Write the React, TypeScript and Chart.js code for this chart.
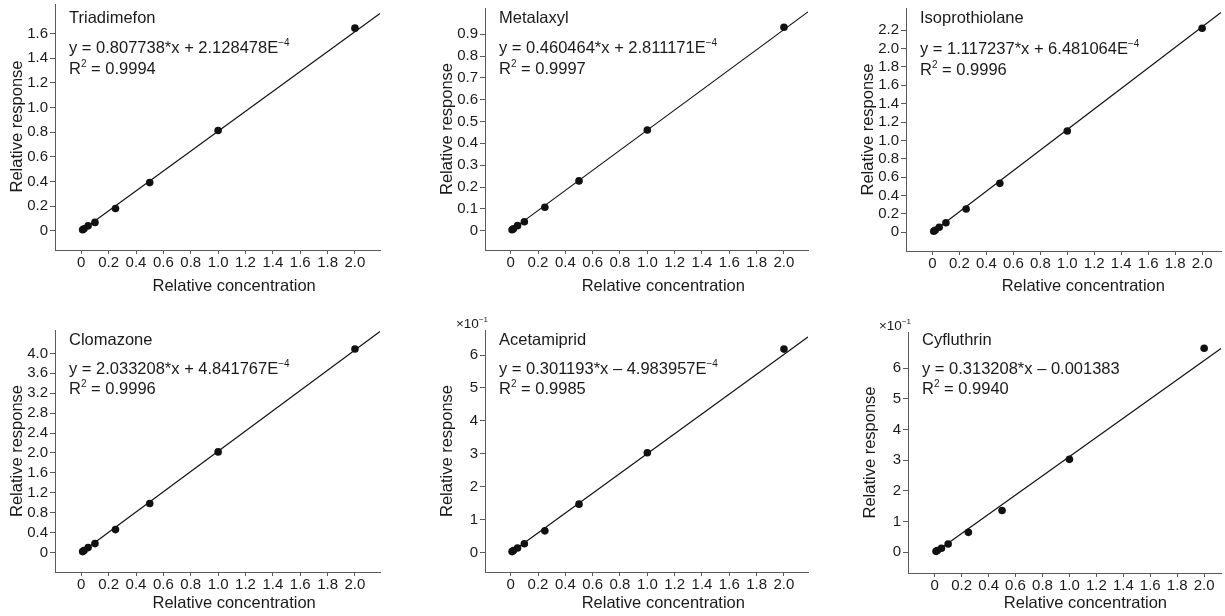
import React, { useEffect, useRef } from "react";
import { Chart, registerables } from "chart.js";

Chart.register(...registerables);

const FONT = "'Liberation Sans', Arial, Helvetica, sans-serif";

// ---------------- data ----------------
const concentrations = [0.01, 0.02, 0.05, 0.1, 0.25, 0.5, 1.0, 2.0];
const compoundNames = ["Triadimefon", "Metalaxyl", "Isoprothiolane", "Clomazone", "Acetamiprid", "Cyfluthrin"];

const triadimefonResponse = [0.008, 0.016, 0.04, 0.068, 0.181, 0.391, 0.814, 1.644];
const metalaxylResponse = [0.0046, 0.009, 0.023, 0.041, 0.107, 0.228, 0.4615, 0.932];
const isoprothiolaneResponse = [0.011, 0.022, 0.055, 0.104, 0.253, 0.533, 1.102, 2.219];
const clomazoneResponse = [0.02, 0.04, 0.1, 0.18, 0.462, 0.985, 2.022, 4.087];
const acetamipridResponse = [0.003, 0.006, 0.014, 0.027, 0.066, 0.147, 0.303, 0.618];
const cyfluthrinResponse = [0.003, 0.006, 0.013, 0.027, 0.065, 0.136, 0.303, 0.665];

const slopes = [0.807738, 0.460464, 1.117237, 2.033208, 0.301193, 0.313208];
const intercepts = [2.128478e-4, 2.811171e-4, 6.481064e-4, 4.841767e-4, -4.983957e-4, -0.001383];
const equationTexts = [
  "y = 0.807738*x + 2.128478E",
  "y = 0.460464*x + 2.811171E",
  "y = 1.117237*x + 6.481064E",
  "y = 2.033208*x + 4.841767E",
  "y = 0.301193*x – 4.983957E",
  "y = 0.313208*x – 0.001383",
];
const equationExponents = ["−4", "−4", "−4", "−4", "−4", ""];
const r2Texts = ["0.9994", "0.9997", "0.9996", "0.9996", "0.9985", "0.9940"];
const yAxisPowers = [0, 0, 0, 0, -1, -1]; // axis labelled ×10^power

const xTickValues = [0, 0.2, 0.4, 0.6, 0.8, 1.0, 1.2, 1.4, 1.6, 1.8, 2.0];
const yTicksTriadimefon = [0, 0.2, 0.4, 0.6, 0.8, 1.0, 1.2, 1.4, 1.6];
const yTicksMetalaxyl = [0, 0.1, 0.2, 0.3, 0.4, 0.5, 0.6, 0.7, 0.8, 0.9];
const yTicksIsoprothiolane = [0, 0.2, 0.4, 0.6, 0.8, 1.0, 1.2, 1.4, 1.6, 1.8, 2.0, 2.2];
const yTicksClomazone = [0, 0.4, 0.8, 1.2, 1.6, 2.0, 2.4, 2.8, 3.2, 3.6, 4.0];
const yTicksAcetamiprid = [0, 1, 2, 3, 4, 5, 6];
const yTicksCyfluthrin = [0, 1, 2, 3, 4, 5, 6];

const xAxisTitle = "Relative concentration";
const yAxisTitle = "Relative response";

const responses = [
  triadimefonResponse,
  metalaxylResponse,
  isoprothiolaneResponse,
  clomazoneResponse,
  acetamipridResponse,
  cyfluthrinResponse,
];
const yTickSets = [
  yTicksTriadimefon,
  yTicksMetalaxyl,
  yTicksIsoprothiolane,
  yTicksClomazone,
  yTicksAcetamiprid,
  yTicksCyfluthrin,
];

// ---------------- layout (positions only) ----------------
type Layout = {
  left: number; top: number; width: number; height: number;
  area: [number, number, number, number]; // L, R, T, B in canvas px
  x: [number, number]; y: [number, number];
  xTitleY: number; textRows: [number, number, number];
};
const panelLayouts: Layout[] = [
  { left: 0, top: 0, width: 410, height: 300, area: [55, 380, 3, 250], x: [-0.192, 2.183], y: [-0.156, 1.84], xTitleY: 286, textRows: [23, 53, 74] },
  { left: 410, top: 0, width: 410, height: 300, area: [75, 398, 8, 250], x: [-0.188, 2.176], y: [-0.0885, 1.02], xTitleY: 286, textRows: [23, 53, 74] },
  { left: 820, top: 0, width: 405, height: 300, area: [86, 405, 8, 251], x: [-0.196, 2.14], y: [-0.203, 2.44], xTitleY: 286, textRows: [23, 54, 75] },
  { left: 0, top: 300, width: 410, height: 316, area: [55, 380, 30, 272], x: [-0.192, 2.183], y: [-0.39, 4.47], xTitleY: 303, textRows: [45, 74, 94] },
  { left: 410, top: 300, width: 410, height: 316, area: [75, 398, 30, 272], x: [-0.188, 2.176], y: [-0.59, 6.76], xTitleY: 303, textRows: [45, 74, 94] },
  { left: 820, top: 300, width: 405, height: 316, area: [88, 405, 32, 273], x: [-0.198, 2.125], y: [-0.675, 7.18], xTitleY: 303, textRows: [45, 74, 94] },
];

const AXIS_COLOR = "#5a5a5a";
const TEXT_COLOR = "#1a1a1a";
const LABEL_SIZE = 16.5;
const TICK_SIZE = 15;

function drawRich(ctx: CanvasRenderingContext2D, parts: [string, boolean][], x: number, y: number, size: number, align: "left" | "right" = "left") {
  const supSize = Math.round(size * 0.62);
  let total = 0;
  for (const [t, sup] of parts) {
    ctx.font = `${sup ? supSize : size}px ${FONT}`;
    total += ctx.measureText(t).width;
  }
  let cx = align === "right" ? x - total : x;
  ctx.textAlign = "left";
  ctx.textBaseline = "alphabetic";
  for (const [t, sup] of parts) {
    ctx.font = `${sup ? supSize : size}px ${FONT}`;
    ctx.fillText(t, cx, sup ? y - size * 0.42 : y);
    cx += ctx.measureText(t).width;
  }
}

function fmt(v: number, decimals: number) {
  if (Math.abs(v) < 1e-9) return "0";
  return v.toFixed(decimals);
}

function Panel({ index }: { index: number }) {
  const ref = useRef<HTMLCanvasElement | null>(null);
  const lay = panelLayouts[index];

  useEffect(() => {
    const canvas = ref.current;
    if (!canvas) return;
    const factor = Math.pow(10, -yAxisPowers[index]);
    const pts = concentrations.map((c, k) => ({ x: c, y: responses[index][k] * factor }));
    const lineX0 = concentrations[0];
    const lineX1 = lay.x[1];
    const linePts = [lineX0, lineX1].map((x) => ({ x, y: (slopes[index] * x + intercepts[index]) * factor }));
    const yTicks = yTickSets[index];
    const yDecimals = yTicks.some((v) => Math.abs(v - Math.round(v)) > 1e-9) ? 1 : 0;
    const [L, R, T, B] = lay.area;

    const textPlugin = {
      id: "panelText" + index,
      afterDraw(chart: any) {
        const ctx: CanvasRenderingContext2D = chart.ctx;
        const xs = chart.scales.x;
        ctx.save();
        ctx.fillStyle = TEXT_COLOR;
        const tx = L + 14;
        drawRich(ctx, [[compoundNames[index], false]], tx, lay.textRows[0], LABEL_SIZE);
        const eqParts: [string, boolean][] = [[equationTexts[index], false]];
        if (equationExponents[index]) eqParts.push([equationExponents[index], true]);
        drawRich(ctx, eqParts, tx, lay.textRows[1], LABEL_SIZE);
        drawRich(ctx, [["R", false], ["2", true], [" = " + r2Texts[index], false]], tx, lay.textRows[2], LABEL_SIZE);
        if (yAxisPowers[index] !== 0) {
          drawRich(ctx, [["×10", false], ["−" + Math.abs(yAxisPowers[index]), true]], L + 3, T - 2, 13.5, "right");
        }
        ctx.font = `${LABEL_SIZE}px ${FONT}`;
        ctx.textAlign = "center";
        ctx.textBaseline = "middle";
        ctx.fillText(xAxisTitle, xs.getPixelForValue(1.0) + 16, lay.xTitleY);
        ctx.translate(L - 38, (T + B) / 2);
        ctx.rotate(-Math.PI / 2);
        ctx.fillText(yAxisTitle, 0, 0);
        ctx.restore();
      },
    };

    const chart = new Chart(canvas, {
      type: "scatter",
      data: {
        datasets: [
          {
            data: pts,
            pointRadius: 3.8,
            pointBackgroundColor: "#111",
            pointBorderWidth: 0,
            showLine: false,
            order: 0,
          } as any,
          {
            data: linePts,
            showLine: true,
            borderColor: "#111",
            borderWidth: 1.2,
            pointRadius: 0,
            fill: false,
            order: 1,
          } as any,
        ],
      },
      options: {
        animation: false,
        responsive: false,
        events: [],
        layout: { padding: { left: 0, top: T, right: lay.width - R, bottom: 0 } },
        plugins: { legend: { display: false }, tooltip: { enabled: false } },
        scales: {
          x: {
            type: "linear",
            min: lay.x[0],
            max: lay.x[1],
            afterBuildTicks: (s: any) => {
              s.ticks = xTickValues.map((v) => ({ value: v }));
            },
            afterFit: (s: any) => {
              s.height = lay.height - B;
              s.paddingLeft = 0;
              s.paddingRight = 0;
            },
            ticks: {
              autoSkip: false,
              maxRotation: 0,
              padding: 0,
              color: TEXT_COLOR,
              font: { family: FONT, size: TICK_SIZE },
              callback: (v: any) => fmt(Number(v), 1),
            },
            grid: { drawOnChartArea: false, drawTicks: true, tickLength: 4, color: AXIS_COLOR },
            border: { display: true, color: AXIS_COLOR, width: 1 },
          },
          y: {
            type: "linear",
            min: lay.y[0],
            max: lay.y[1],
            afterBuildTicks: (s: any) => {
              s.ticks = yTicks.map((v) => ({ value: v }));
            },
            afterFit: (s: any) => {
              s.width = L;
              s.paddingTop = 0;
              s.paddingBottom = 0;
            },
            ticks: {
              autoSkip: false,
              padding: 2,
              color: TEXT_COLOR,
              font: { family: FONT, size: TICK_SIZE },
              callback: (v: any) => fmt(Number(v), yDecimals),
            },
            grid: { drawOnChartArea: false, drawTicks: true, tickLength: 5, color: AXIS_COLOR },
            border: { display: true, color: AXIS_COLOR, width: 1 },
          },
        },
      } as any,
      plugins: [textPlugin],
    });
    return () => chart.destroy();
  }, [index]);

  return (
    <canvas
      ref={ref}
      width={lay.width}
      height={lay.height}
      style={{ position: "absolute", left: lay.left, top: lay.top, width: lay.width, height: lay.height, display: "block" }}
    />
  );
}

export default function App() {
  return (
    <div style={{ position: "absolute", left: 0, top: 0, width: 1225, height: 616, background: "#fff", overflow: "hidden" }}>
      {panelLayouts.map((_, i) => (
        <Panel key={i} index={i} />
      ))}
    </div>
  );
}
